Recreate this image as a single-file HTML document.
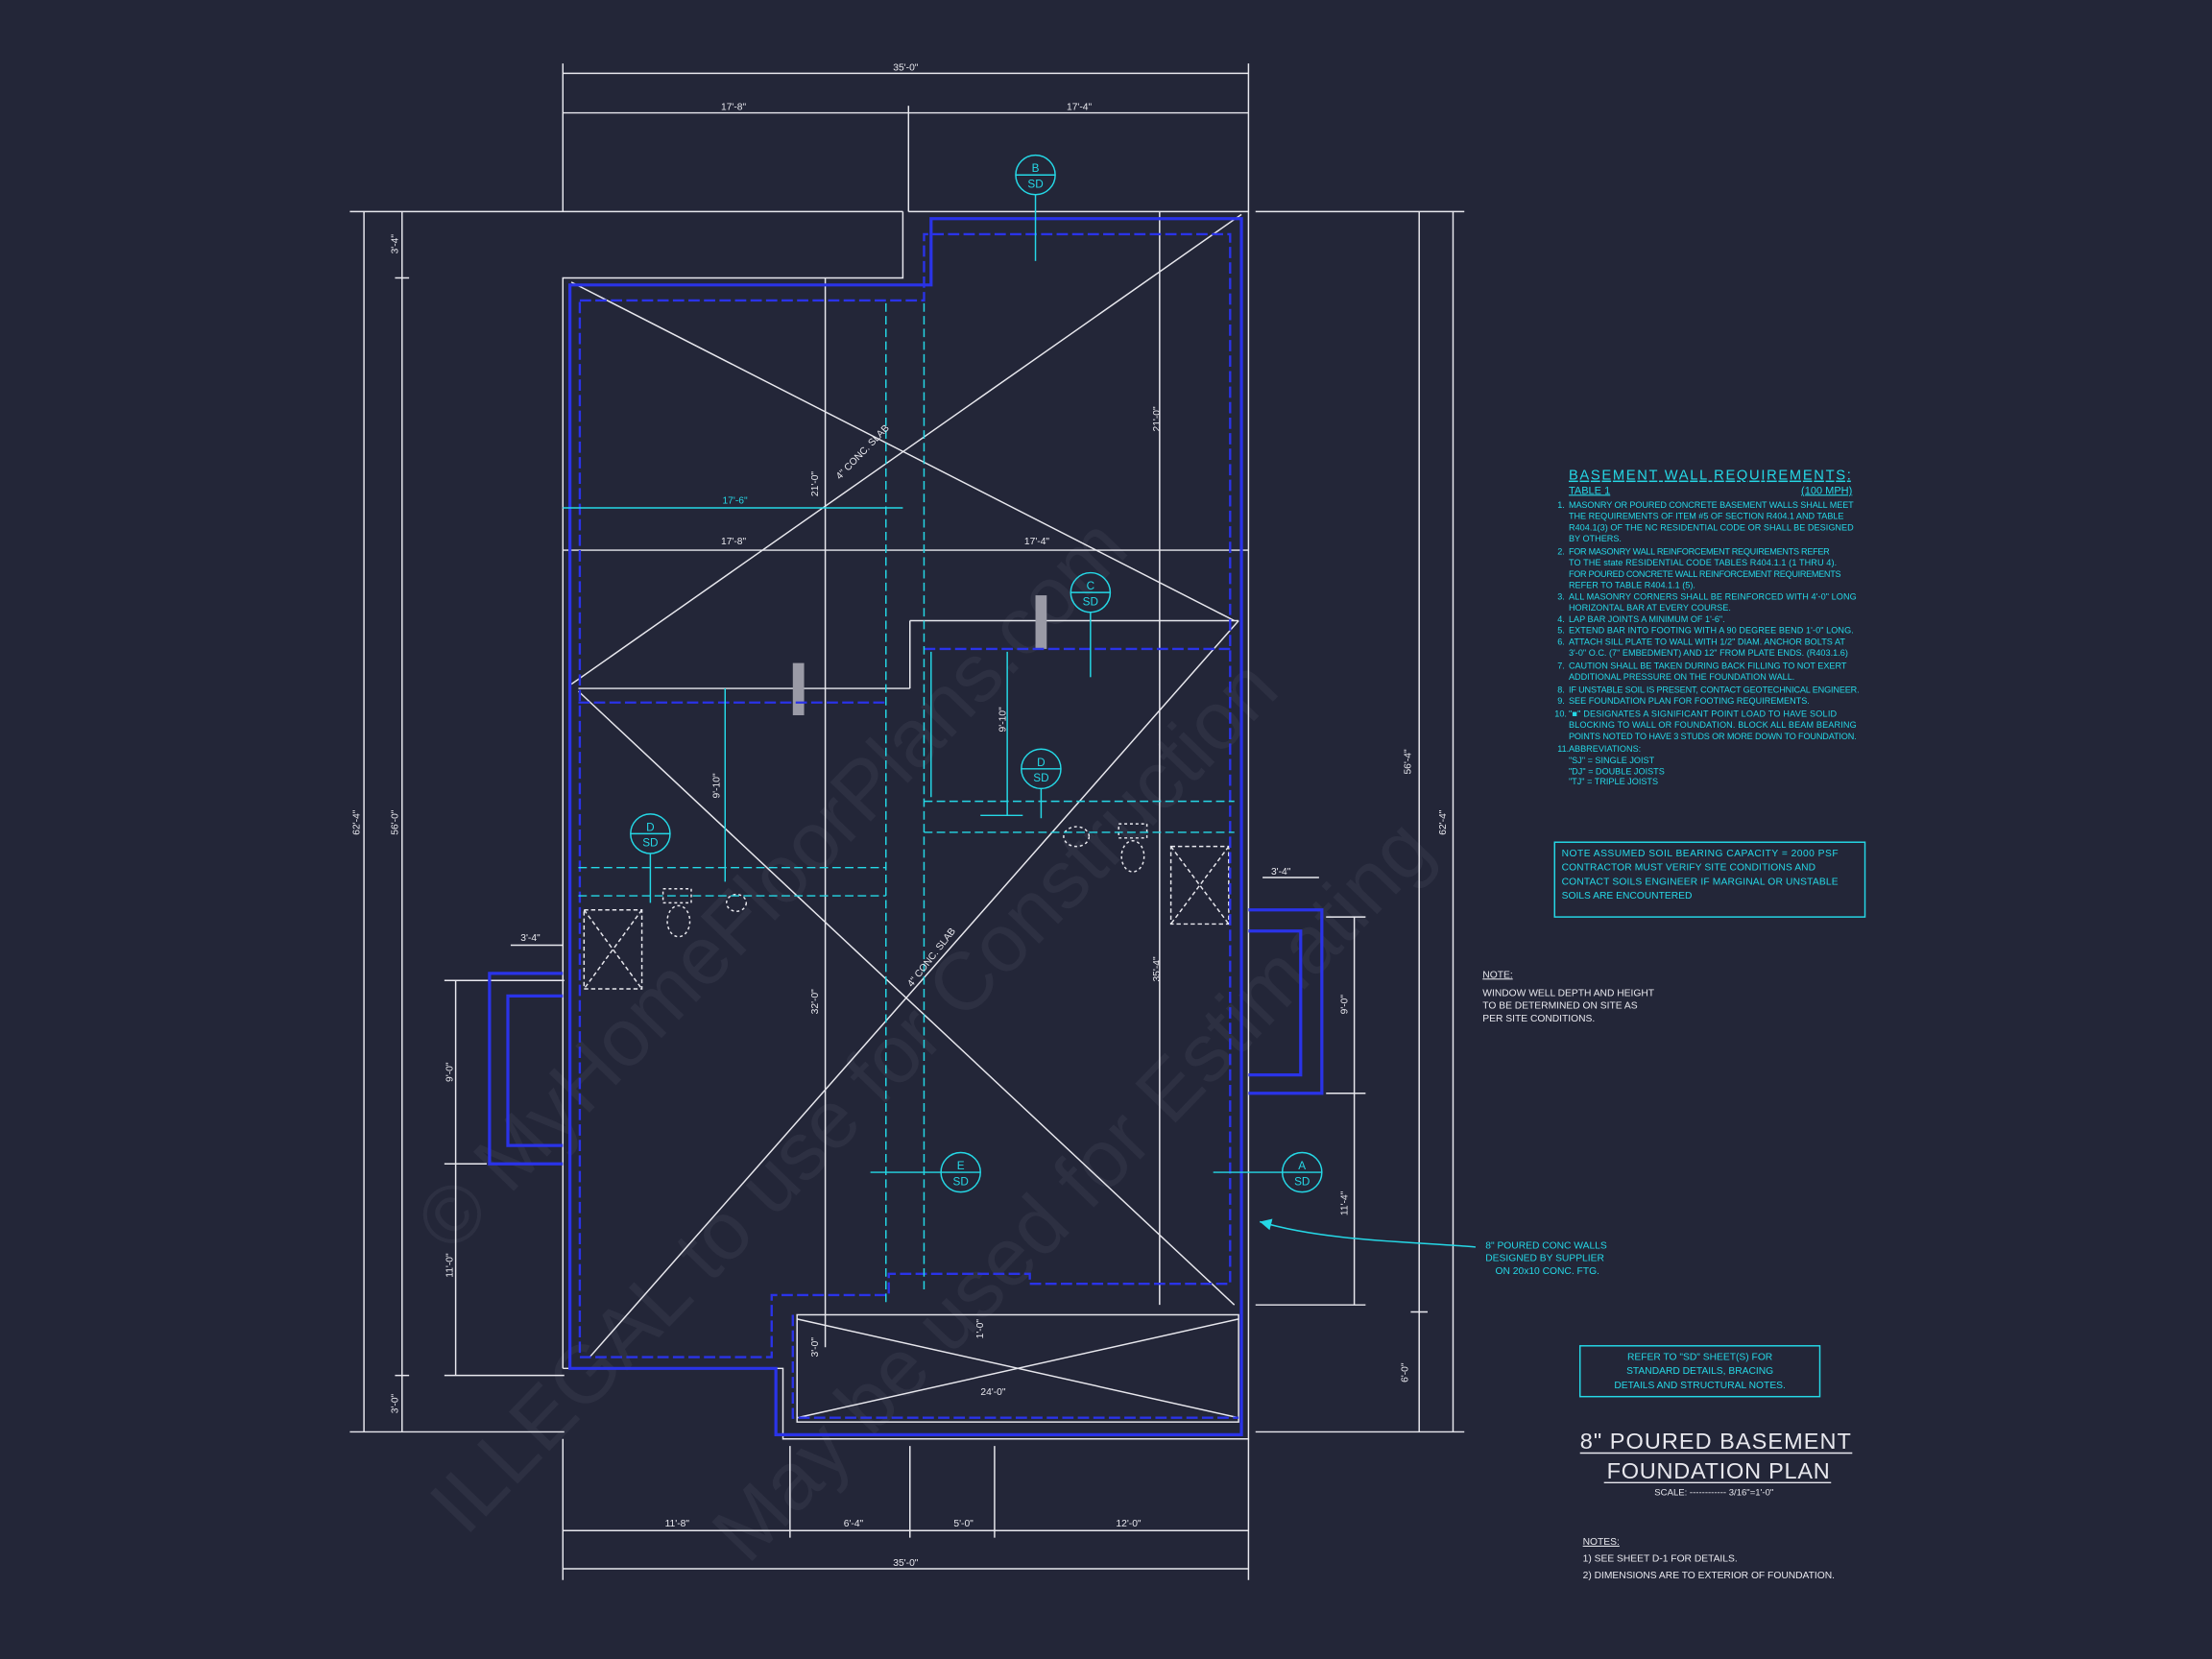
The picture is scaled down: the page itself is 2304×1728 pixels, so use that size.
<!DOCTYPE html>
<html><head><meta charset="utf-8"><style>
html,body{margin:0;padding:0;background:#232638;}
svg{display:block}
text{font-family:"Liberation Sans",sans-serif;}
.w{stroke:#e8e8ee;stroke-width:1;fill:none}
.c{stroke:#25d8e6;stroke-width:1;fill:none}
.cd{stroke:#25d8e6;stroke-width:1;fill:none;stroke-dasharray:6 3}
.b{stroke:#2a33e8;stroke-width:2.2;fill:none}
.bd{stroke:#2a33e8;stroke-width:1.6;fill:none;stroke-dasharray:8 3}
.tw{fill:#e8e8ee;font-size:7px}
.tc{fill:#25d8e6;font-size:6.5px}
</style></head><body>
<svg width="2304" height="1728" viewBox="0 0 1568 1176" preserveAspectRatio="none">
<rect width="1568" height="1176" fill="#232638"/>
<!-- watermark -->
<g fill="#3a3d50" font-size="58" opacity="0.45">
<text transform="translate(320,890) rotate(-46)">© MyHomeFloorPlans.com</text>
<text transform="translate(330,1090) rotate(-46)">ILLEGAL to use for Construction</text>
<text transform="translate(530,1110) rotate(-46)">May be used for Estimating</text>
</g>
<!-- top dims -->
<g class="w">
<line x1="399" y1="45" x2="399" y2="150"/><line x1="885" y1="45" x2="885" y2="150"/>
<line x1="399" y1="52" x2="885" y2="52"/>
<line x1="399" y1="80" x2="885" y2="80"/><line x1="644" y1="75" x2="644" y2="150"/>
<!-- left dims -->
<line x1="258" y1="150" x2="258" y2="1015"/><line x1="285" y1="150" x2="285" y2="1015"/>
<line x1="280" y1="197" x2="290" y2="197"/><line x1="280" y1="975" x2="290" y2="975"/>
<line x1="248" y1="150" x2="640" y2="150"/><line x1="248" y1="1015" x2="400" y2="1015"/>
<!-- right dims -->
<line x1="1006" y1="150" x2="1006" y2="1015"/><line x1="1030" y1="150" x2="1030" y2="1015"/>
<line x1="890" y1="150" x2="1038" y2="150"/><line x1="890" y1="1015" x2="1038" y2="1015"/>
<line x1="1000" y1="930" x2="1012" y2="930"/>
<!-- bottom dims -->
<line x1="399" y1="1085" x2="885" y2="1085"/><line x1="399" y1="1112" x2="885" y2="1112"/>
<line x1="399" y1="1020" x2="399" y2="1120"/><line x1="885" y1="1020" x2="885" y2="1120"/>
<line x1="560" y1="1025" x2="560" y2="1090"/><line x1="645" y1="1025" x2="645" y2="1090"/>
<line x1="705" y1="1025" x2="705" y2="1090"/>
<!-- window well dims -->
<line x1="323" y1="695" x2="323" y2="975"/><line x1="315" y1="695" x2="400" y2="695"/><line x1="315" y1="825" x2="345" y2="825"/>
<line x1="315" y1="975" x2="400" y2="975"/>
<line x1="960" y1="650" x2="960" y2="925"/><line x1="940" y1="650" x2="968" y2="650"/><line x1="940" y1="775" x2="968" y2="775"/>
<line x1="890" y1="925" x2="968" y2="925"/>
<line x1="362" y1="670" x2="399" y2="670"/><line x1="895" y1="622" x2="935" y2="622"/>
<!-- outline -->
<path d="M399,970 V197 H640 V150"/>
<path d="M644,150 H885 V1020 H555 V970 H399"/>
<!-- interior -->
<line x1="399" y1="390" x2="885" y2="390"/>
<line x1="645" y1="440" x2="878" y2="440"/><line x1="410" y1="488" x2="645" y2="488"/>
<line x1="645" y1="440" x2="645" y2="488"/>
<line x1="585" y1="197" x2="585" y2="955"/><line x1="822" y1="150" x2="822" y2="925"/>
<line x1="405" y1="200" x2="875" y2="440"/><line x1="405" y1="485" x2="880" y2="152"/>
<line x1="410" y1="490" x2="875" y2="925"/><line x1="878" y1="440" x2="418" y2="962"/>
<line x1="565" y1="935" x2="878" y2="1005"/><line x1="565" y1="1005" x2="878" y2="935"/>
<rect x="565" y="932" width="313" height="76"/>
<!-- windows boxes -->
<rect x="414" y="645" width="41" height="56" stroke-dasharray="3 2"/>
<line x1="414" y1="645" x2="455" y2="701" stroke-dasharray="3 2"/><line x1="455" y1="645" x2="414" y2="701" stroke-dasharray="3 2"/>
<rect x="830" y="600" width="41" height="55" stroke-dasharray="3 2"/>
<line x1="830" y1="600" x2="871" y2="655" stroke-dasharray="3 2"/><line x1="871" y1="600" x2="830" y2="655" stroke-dasharray="3 2"/>
<!-- fixtures -->
<rect x="470" y="630" width="20" height="10" stroke-dasharray="2 2"/><ellipse cx="481" cy="653" rx="8" ry="11" stroke-dasharray="2 2"/>
<rect x="793" y="584" width="20" height="10" stroke-dasharray="2 2"/><ellipse cx="803" cy="607" rx="8" ry="11" stroke-dasharray="2 2"/>
<ellipse cx="522" cy="640" rx="7" ry="6" stroke-dasharray="2 2"/><ellipse cx="763" cy="593" rx="9" ry="7" stroke-dasharray="2 2"/>
</g>
<!-- hatch posts -->
<rect x="562" y="470" width="8" height="37" fill="#9a9aa6"/>
<rect x="734" y="422" width="8" height="38" fill="#9a9aa6"/>
<!-- blue walls -->
<path class="b" d="M404,202 H660 V155 H880 V1017 H550 V970 H404 Z"/>
<path class="bd" d="M411,213 H655 V166 H872 V910 H730 V903 H630 V918 H547 V962 H411 Z"/>
<path class="b" d="M399,690 H347 V825 H399 M399,706 H360 V812 H399"/>
<path class="b" d="M885,645 H937 V775 H885 M885,660 H922 V762 H885"/>
<path class="bd" d="M562,932 V1005 H878"/>
<path class="bd" d="M655,460 H872 M410,498 H628"/>
<!-- cyan -->
<g class="c">
<line x1="399" y1="360" x2="640" y2="360"/>
<line x1="514" y1="488" x2="514" y2="625"/><line x1="714" y1="462" x2="714" y2="578"/>
<line x1="660" y1="462" x2="660" y2="565"/>
<circle cx="734" cy="124" r="14"/><line x1="720" y1="124" x2="748" y2="124"/><line x1="734" y1="138" x2="734" y2="185"/>
<circle cx="773" cy="420" r="14"/><line x1="759" y1="420" x2="787" y2="420"/><line x1="773" y1="434" x2="773" y2="480"/>
<circle cx="738" cy="545" r="14"/><line x1="724" y1="545" x2="752" y2="545"/><line x1="738" y1="559" x2="738" y2="580"/><line x1="695" y1="578" x2="725" y2="578"/>
<circle cx="461" cy="591" r="14"/><line x1="447" y1="591" x2="475" y2="591"/><line x1="461" y1="605" x2="461" y2="640"/>
<circle cx="681" cy="831" r="14"/><line x1="667" y1="831" x2="695" y2="831"/><line x1="617" y1="831" x2="667" y2="831"/>
<circle cx="923" cy="831" r="14"/><line x1="909" y1="831" x2="937" y2="831"/><line x1="860" y1="831" x2="909" y2="831"/>
<path d="M1046,884 C1000,880 940,880 893,866"/>
<rect x="1102" y="597" width="220" height="53"/>
<rect x="1120" y="954" width="170" height="36"/>
</g>
<polygon points="893,866 902,864 900,872" fill="#25d8e6"/>
<g class="cd">
<line x1="628" y1="215" x2="628" y2="925"/><line x1="655" y1="215" x2="655" y2="915"/>
<line x1="655" y1="568" x2="875" y2="568"/><line x1="655" y1="590" x2="875" y2="590"/>
<line x1="410" y1="615" x2="628" y2="615"/><line x1="410" y1="635" x2="628" y2="635"/>
</g>
<!-- circle labels -->
<g fill="#25d8e6" font-size="8" text-anchor="middle">
<text x="734" y="122">B</text><text x="734" y="133">SD</text>
<text x="773" y="418">C</text><text x="773" y="429">SD</text>
<text x="738" y="543">D</text><text x="738" y="554">SD</text>
<text x="461" y="589">D</text><text x="461" y="600">SD</text>
<text x="681" y="829">E</text><text x="681" y="840">SD</text>
<text x="923" y="829">A</text><text x="923" y="840">SD</text>
</g>
<!-- dim text -->
<g class="tw" text-anchor="middle">
<text x="642" y="50">35'-0"</text><text x="520" y="78">17'-8"</text><text x="765" y="78">17'-4"</text>
<text x="520" y="386">17'-8"</text><text x="735" y="386">17'-4"</text>
<text x="480" y="1082">11'-8"</text><text x="605" y="1082">6'-4"</text><text x="683" y="1082">5'-0"</text><text x="800" y="1082">12'-0"</text>
<text x="642" y="1110">35'-0"</text><text x="704" y="989">24'-0"</text>
<text x="376" y="667">3'-4"</text><text x="908" y="620">3'-4"</text>
<text transform="translate(255,583) rotate(-90)">62'-4"</text>
<text transform="translate(282,583) rotate(-90)">56'-0"</text>
<text transform="translate(282,173) rotate(-90)">3'-4"</text>
<text transform="translate(282,995) rotate(-90)">3'-0"</text>
<text transform="translate(1000,540) rotate(-90)">56'-4"</text>
<text transform="translate(1025,583) rotate(-90)">62'-4"</text>
<text transform="translate(998,973) rotate(-90)">6'-0"</text>
<text transform="translate(955,712) rotate(-90)">9'-0"</text>
<text transform="translate(955,853) rotate(-90)">11'-4"</text>
<text transform="translate(321,760) rotate(-90)">9'-0"</text>
<text transform="translate(321,897) rotate(-90)">11'-0"</text>
<text transform="translate(822,297) rotate(-90)">21'-0"</text>
<text transform="translate(580,343) rotate(-90)">21'-0"</text>
<text transform="translate(580,710) rotate(-90)">32'-0"</text>
<text transform="translate(822,687) rotate(-90)">35'-4"</text>
<text transform="translate(580,955) rotate(-90)">3'-0"</text>
<text transform="translate(697,942) rotate(-90)">1'-0"</text>
<text transform="translate(510,557) rotate(-90)">9'-10"</text>
<text transform="translate(713,510) rotate(-90)">9'-10"</text>
<text transform="translate(613,322) rotate(-46)">4" CONC. SLAB</text>
<text transform="translate(662,680) rotate(-52)">4" CONC. SLAB</text>
<text x="521" y="357" fill="#25d8e6">17'-6"</text>
</g>
<!-- notes block -->
<g fill="#25d8e6">
<text x="1112" y="340" font-size="10" text-decoration="underline" textLength="200">BASEMENT WALL REQUIREMENTS:</text>
<text x="1112" y="350" font-size="7.5" text-decoration="underline">TABLE 1</text>
<text x="1313" y="350" font-size="7.5" text-anchor="end" text-decoration="underline">(100 MPH)</text>
<g font-size="6.2">
<text x="1104" y="360">1.</text><text x="1112" y="360" textLength="202">MASONRY OR POURED CONCRETE BASEMENT WALLS SHALL MEET</text>
<text x="1112" y="368" textLength="195">THE REQUIREMENTS OF ITEM #5 OF SECTION R404.1 AND TABLE</text>
<text x="1112" y="376" textLength="202">R404.1(3) OF THE NC RESIDENTIAL CODE OR SHALL BE DESIGNED</text>
<text x="1112" y="384">BY OTHERS.</text>
<text x="1104" y="393">2.</text><text x="1112" y="393" textLength="185">FOR MASONRY WALL REINFORCEMENT REQUIREMENTS REFER</text>
<text x="1112" y="401" textLength="190">TO THE state RESIDENTIAL CODE TABLES R404.1.1 (1 THRU 4).</text>
<text x="1112" y="409" textLength="193">FOR POURED CONCRETE WALL REINFORCEMENT REQUIREMENTS</text>
<text x="1112" y="417">REFER TO TABLE R404.1.1 (5).</text>
<text x="1104" y="425">3.</text><text x="1112" y="425" textLength="204">ALL MASONRY CORNERS SHALL BE REINFORCED WITH 4'-0" LONG</text>
<text x="1112" y="433">HORIZONTAL BAR AT EVERY COURSE.</text>
<text x="1104" y="441">4.</text><text x="1112" y="441">LAP BAR JOINTS A MINIMUM OF 1'-6".</text>
<text x="1104" y="449">5.</text><text x="1112" y="449" textLength="202">EXTEND BAR INTO FOOTING WITH A 90 DEGREE BEND 1'-0" LONG.</text>
<text x="1104" y="457">6.</text><text x="1112" y="457" textLength="196">ATTACH SILL PLATE TO WALL WITH 1/2" DIAM. ANCHOR BOLTS AT</text>
<text x="1112" y="465" textLength="198">3'-0" O.C. (7" EMBEDMENT) AND 12" FROM PLATE ENDS. (R403.1.6)</text>
<text x="1104" y="474">7.</text><text x="1112" y="474" textLength="197">CAUTION SHALL BE TAKEN DURING BACK FILLING TO NOT EXERT</text>
<text x="1112" y="482">ADDITIONAL PRESSURE ON THE FOUNDATION WALL.</text>
<text x="1104" y="491">8.</text><text x="1112" y="491" textLength="206">IF UNSTABLE SOIL IS PRESENT, CONTACT GEOTECHNICAL ENGINEER.</text>
<text x="1104" y="499">9.</text><text x="1112" y="499">SEE FOUNDATION PLAN FOR FOOTING REQUIREMENTS.</text>
<text x="1102" y="508">10.</text><text x="1112" y="508" textLength="190">"■" DESIGNATES A SIGNIFICANT POINT LOAD TO HAVE SOLID</text>
<text x="1112" y="516" textLength="204">BLOCKING TO WALL OR FOUNDATION.  BLOCK ALL BEAM BEARING</text>
<text x="1112" y="524" textLength="204">POINTS NOTED TO HAVE 3 STUDS OR MORE DOWN TO FOUNDATION.</text>
<text x="1104" y="533">11.</text><text x="1112" y="533">ABBREVIATIONS:</text>
<text x="1112" y="541">"SJ" = SINGLE JOIST</text>
<text x="1112" y="549">"DJ" = DOUBLE JOISTS</text>
<text x="1112" y="556">"TJ" = TRIPLE JOISTS</text>
</g>
<g font-size="7">
<text x="1107" y="607" textLength="196">NOTE ASSUMED SOIL BEARING CAPACITY = 2000 PSF</text>
<text x="1107" y="617" textLength="180">CONTRACTOR MUST VERIFY SITE CONDITIONS AND</text>
<text x="1107" y="627" textLength="196">CONTACT SOILS ENGINEER IF MARGINAL OR UNSTABLE</text>
<text x="1107" y="637">SOILS ARE ENCOUNTERED</text>
<text x="1205" y="964" text-anchor="middle">REFER TO "SD"  SHEET(S) FOR</text>
<text x="1205" y="974" text-anchor="middle">STANDARD DETAILS, BRACING</text>
<text x="1205" y="984" text-anchor="middle">DETAILS AND STRUCTURAL NOTES.</text>
<text x="1053" y="885">8" POURED CONC WALLS</text>
<text x="1053" y="894">DESIGNED BY SUPPLIER</text>
<text x="1060" y="903">ON 20x10 CONC. FTG.</text>
</g>
</g>
<g fill="#e8e8ee" font-size="7">
<text x="1051" y="693" text-decoration="underline">NOTE:</text>
<text x="1051" y="706">WINDOW WELL DEPTH AND HEIGHT</text>
<text x="1051" y="715">TO BE DETERMINED ON SITE AS</text>
<text x="1051" y="724">PER SITE CONDITIONS.</text>
<text x="1216" y="1027" font-size="16" text-anchor="middle" textLength="192">8" POURED BASEMENT</text>
<line x1="1120" y1="1030" x2="1313" y2="1030" stroke="#e8e8ee"/>
<text x="1218" y="1048" font-size="16" text-anchor="middle" textLength="158">FOUNDATION PLAN</text>
<line x1="1137" y1="1051" x2="1298" y2="1051" stroke="#e8e8ee"/>
<text x="1215" y="1060" font-size="6.5" text-anchor="middle">SCALE: ------------ 3/16"=1'-0"</text>
<text x="1122" y="1095" text-decoration="underline">NOTES:</text>
<text x="1122" y="1107">1)  SEE SHEET D-1 FOR DETAILS.</text>
<text x="1122" y="1119">2)  DIMENSIONS ARE TO EXTERIOR OF FOUNDATION.</text>
</g>
</svg>
</body></html>
